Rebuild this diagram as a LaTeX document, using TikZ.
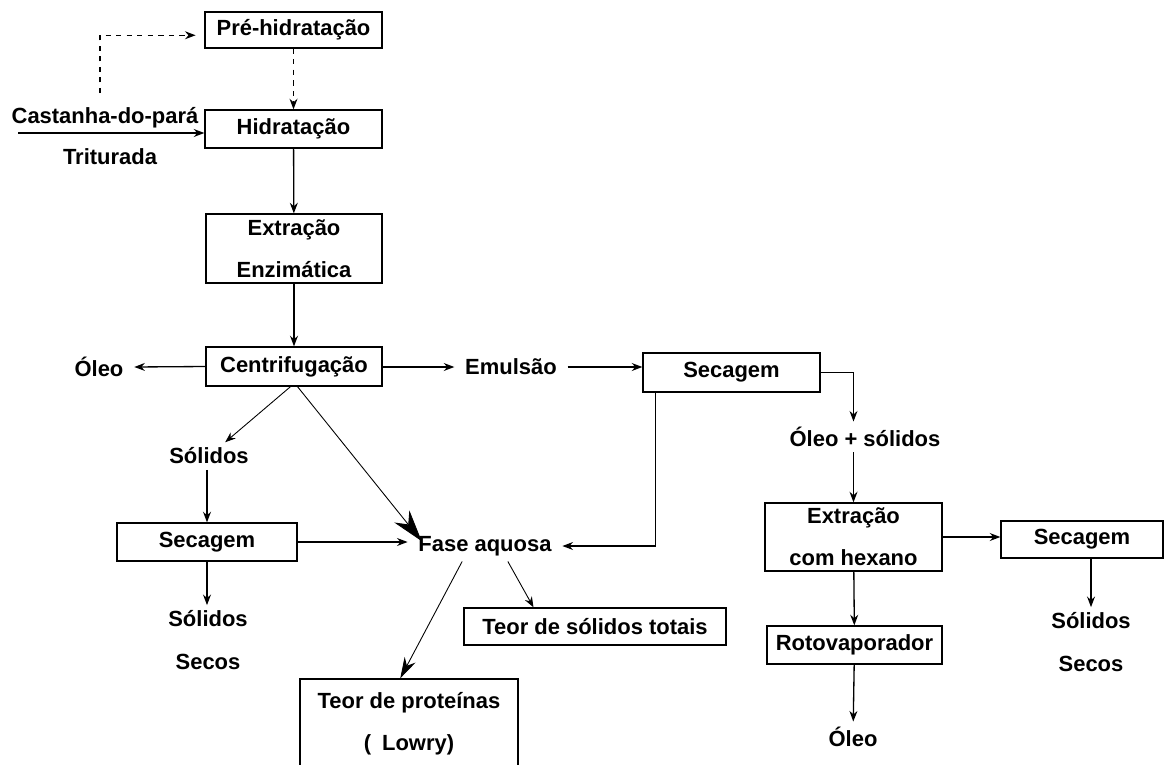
\documentclass[tikz,border=0pt]{standalone}
\usepackage{fontspec}
\setmainfont{Liberation Sans}
\usetikzlibrary{arrows.meta,positioning}

\begin{document}
\begin{tikzpicture}[x=0.02cm,y=-0.02cm,
  every node/.style={font=\bfseries\fontsize{12.5}{24}\selectfont}]
% Define styles
\tikzstyle{box}=[rectangle, draw, line width=0.75pt, align=center, inner sep=2pt]
\tikzstyle{txt}=[align=center, inner xsep=6pt, inner ysep=3pt]
\tikzstyle{arr}=[line width=0.75pt, -{Stealth[length=6pt,width=4.5pt]}]
\tikzstyle{bigarr}=[line width=0.5pt, -{Stealth[length=18pt,width=11pt]}]
\tikzstyle{midarr}=[line width=0.5pt, -{Stealth[length=12pt,width=7pt]}]
\tikzstyle{thinarr}=[line width=0.5pt, -{Stealth[length=6pt,width=4.5pt]}]
\tikzstyle{dotarr}=[line width=0.75pt, dash pattern=on 3pt off 3pt, -{Stealth[length=6pt,width=4.5pt]}]

\clip (0,0) rectangle (1166,764);

% Main column
\node[box, minimum width=3.54cm, minimum height=0.72cm] (prehid) at (293.5,30) {Pré-hidratação};
\node[box, minimum width=3.54cm, minimum height=0.76cm] (hidrat) at (293.5,129) {Hidratação};
\node[box, minimum width=3.52cm, minimum height=1.38cm] (extr) at (294,248.5) {Extração\\Enzimática};
\node[box, minimum width=3.52cm, minimum height=0.78cm] (centr) at (294,366.5) {Centrifugação};

% Input
\coordinate (in) at (18,133);
\coordinate (dotstart) at (100,93);
\node[txt] (cast) at (105,118) {Castanha-do-pará};
\node[txt] (trit) at (110,157) {Triturada};

% Centrifugation outputs
\node[txt] (oleo1) at (99,367) {Óleo};
\node[txt] (emul) at (511,367) {Emulsão};
\node[txt] (solid1) at (209,456) {Sólidos};
\node[txt] (fase) at (485,546) {Fase aquosa};

% Left branch
\node[box, minimum width=3.6cm, minimum height=0.76cm] (secl) at (207,542) {Secagem};
\node[txt] (solsec1) at (208,640) {Sólidos\\Secos};

% Aqueous phase analyses
\node[box, minimum width=5.24cm, minimum height=0.74cm] (solt) at (595,626.5) {Teor de sólidos totais};
\node[box, minimum width=4.36cm, minimum height=1.8cm] (prot) at (409,724) {Teor de proteínas\\(\hspace{0.5em}Lowry)};

% Right branch
\node[box, minimum width=3.54cm, minimum height=0.78cm] (sectop) at (731.5,372.5) {Secagem};
\node[txt] (oleosol) at (865,437) {Óleo + sólidos};
\node[box, minimum width=3.54cm, minimum height=1.36cm] (hexano) at (853.5,537) {Extração\\com hexano};
\node[box, minimum width=3.5cm, minimum height=0.76cm] (roto) at (854.5,645) {Rotovaporador};
\node[txt] (oleo2) at (853,737) {Óleo};
\node[box, minimum width=3.24cm, minimum height=0.74cm] (secr) at (1082,539.5) {Secagem};
\node[txt] (solsec2) at (1091,642) {Sólidos\\Secos};

% Connectors
\draw[dotarr, shorten >=5pt] (dotstart) |- ([yshift=-3pt]prehid.west);
\draw[dotarr] (prehid) -- (hidrat);
\draw[arr] (in) -- (in -| hidrat.west);
\draw[arr] (hidrat) -- (extr);
\draw[arr] (extr) -- (centr);
\draw[arr] (centr.west) -- (oleo1.east);
\draw[arr] (centr.east |- emul.west) -- (emul.west);
\draw[arr] (emul.east) -- (emul.east -| sectop.west);
\draw[thinarr] ([xshift=-2pt]centr.south) -- (solid1);
\draw[bigarr] ([xshift=2pt]centr.south) -- ([xshift=8pt,yshift=-6pt]fase.north west);
\draw[arr] (secl.north |- solid1.south) -- (secl.north);
\draw[arr] (secl.east) -- (secl.east -| fase.west);
\draw[arr] (secl.south) -- (secl.south |- solsec1.north);
\draw[arr] ([xshift=7.4pt]sectop.south west) |- (fase.east);
\draw[midarr] ([xshift=-13pt]fase.south) -- ([xshift=-5pt]prot.north);
\draw[thinarr] ([xshift=13pt]fase.south) -- ([xshift=-35pt]solt.north);
\draw[arr] (sectop.east) -| (hexano.north |- oleosol.north);
\draw[arr] (hexano.north |- oleosol.south) -- (hexano.north);
\draw[arr] (hexano.east) -- (hexano.east -| secr.west);
\draw[arr] (hexano) -- (roto);
\draw[arr] (roto) -- (oleo2);
\draw[arr] (solsec2.north |- secr.south) -- (solsec2.north);

\end{tikzpicture}
\end{document}
